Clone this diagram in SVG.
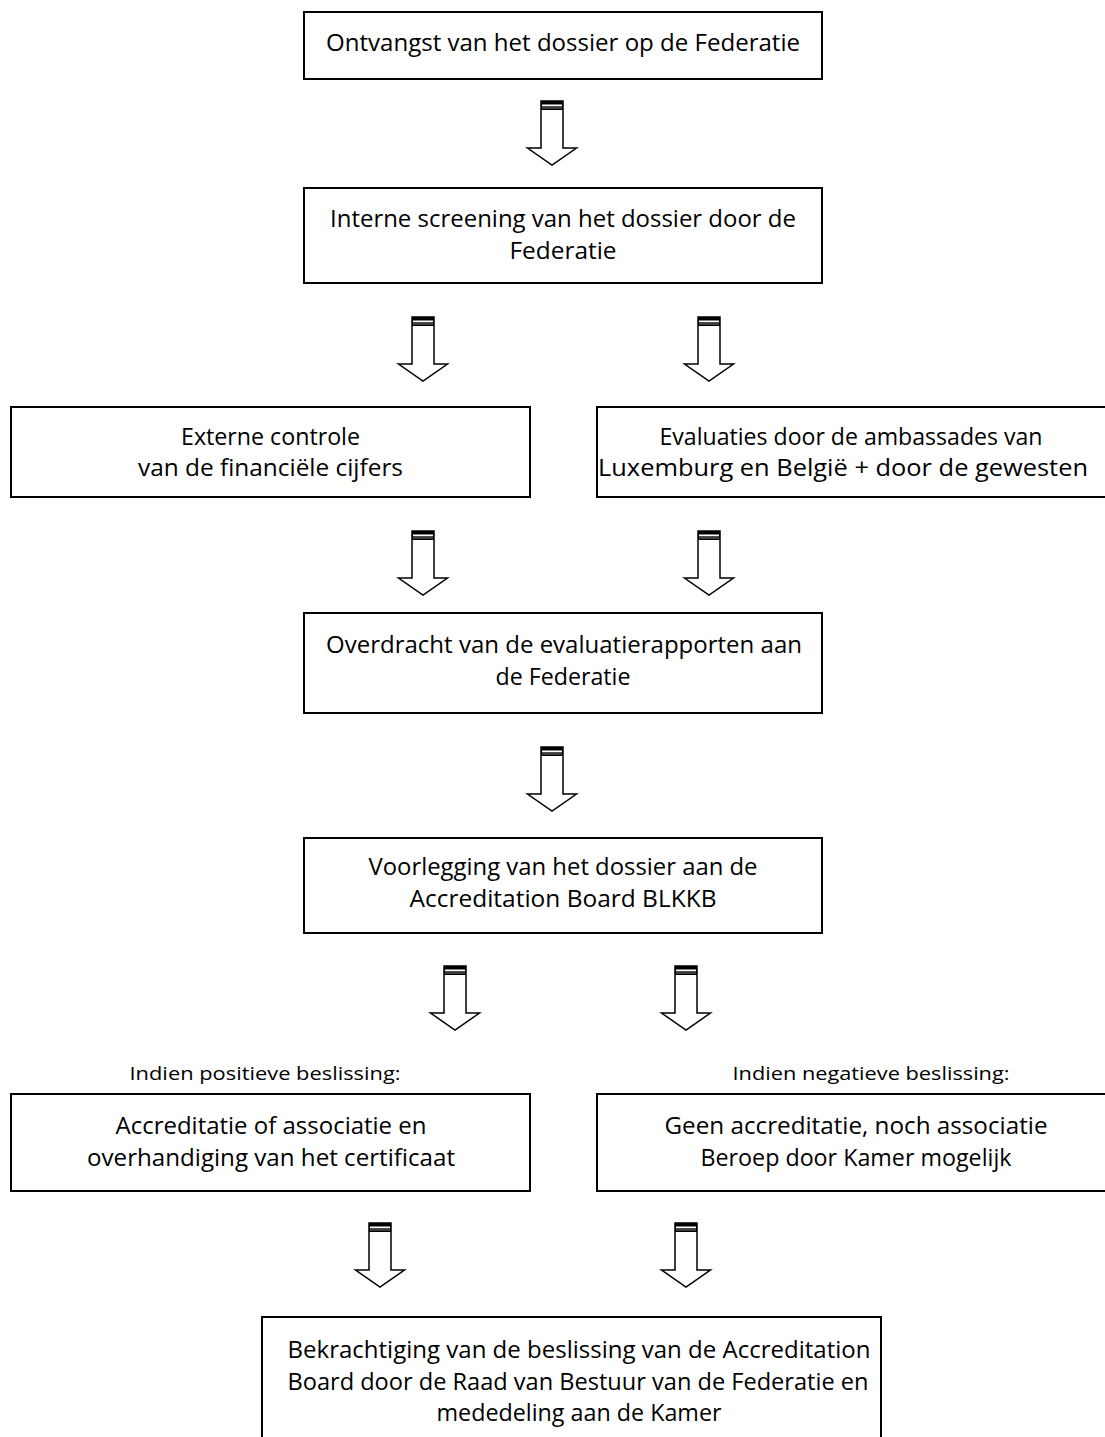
<svg xmlns="http://www.w3.org/2000/svg" width="1105" height="1437" viewBox="0 0 1105 1437">
<defs>
<style>
.box{fill:#fff;stroke:#000;stroke-width:2}
.t{font-family:"Open Sans","Noto Sans",sans-serif;font-size:23px;fill:#000;text-anchor:middle}
.l{font-family:"Open Sans","Noto Sans",sans-serif;font-size:19px;fill:#000;text-anchor:middle}
.ar{fill:#fff;stroke:#000;stroke-width:1.5;stroke-linejoin:miter}
</style>
<g id="arrow">
<path class="ar" d="M-11,0 V47 H-24.5 L0,64 L24.5,47 H11 V0 Z"/>
<rect x="-11" y="0" width="22" height="9" fill="#000"/>
<rect x="-10" y="3.5" width="20" height="1.8" fill="#fff"/>
<rect x="-10" y="6.6" width="20" height="0.8" fill="#999"/>
</g>
</defs>
<rect width="1105" height="1437" fill="#fff"/>
<g id="connectors">
<use href="#arrow" x="552" y="101"/>
<use href="#arrow" x="423" y="317"/>
<use href="#arrow" x="709" y="317"/>
<use href="#arrow" x="423" y="531"/>
<use href="#arrow" x="709" y="531"/>
<use href="#arrow" x="552" y="747"/>
<use href="#arrow" x="455" y="966"/>
<use href="#arrow" x="686" y="966"/>
<use href="#arrow" x="380" y="1223"/>
<use href="#arrow" x="686" y="1223"/>
</g>
<g id="n1">
<rect class="box" x="304" y="12" width="518" height="67"/>
<text class="t" x="563" y="51" textLength="474" lengthAdjust="spacingAndGlyphs">Ontvangst van het dossier op de Federatie</text>
</g>
<g id="n2">
<rect class="box" x="304" y="188" width="518" height="95"/>
<text class="t" x="563" y="227" textLength="466" lengthAdjust="spacingAndGlyphs">Interne screening van het dossier door de</text>
<text class="t" x="563" y="259" textLength="107" lengthAdjust="spacingAndGlyphs">Federatie</text>
</g>
<g id="n3">
<rect class="box" x="11" y="407" width="519" height="90"/>
<text class="t" x="270.5" y="445" textLength="179" lengthAdjust="spacingAndGlyphs">Externe controle</text>
<text class="t" x="270.5" y="476" textLength="265" lengthAdjust="spacingAndGlyphs">van de financiële cijfers</text>
</g>
<g id="n4">
<rect class="box" x="597" y="407" width="515" height="90"/>
<text class="t" x="851" y="445" textLength="383" lengthAdjust="spacingAndGlyphs">Evaluaties door de ambassades van</text>
<text class="t" x="843" y="476" textLength="490" lengthAdjust="spacingAndGlyphs">Luxemburg en België + door de gewesten</text>
</g>
<g id="n5">
<rect class="box" x="304" y="613" width="518" height="100"/>
<text class="t" x="564" y="653" textLength="476" lengthAdjust="spacingAndGlyphs">Overdracht van de evaluatierapporten aan</text>
<text class="t" x="563" y="685" textLength="135" lengthAdjust="spacingAndGlyphs">de Federatie</text>
</g>
<g id="n6">
<rect class="box" x="304" y="838" width="518" height="95"/>
<text class="t" x="563" y="875" textLength="389" lengthAdjust="spacingAndGlyphs">Voorlegging van het dossier aan de</text>
<text class="t" x="563" y="907" textLength="307" lengthAdjust="spacingAndGlyphs">Accreditation Board BLKKB</text>
</g>
<g id="lbl-pos">
<text class="l" x="265" y="1080" textLength="271" lengthAdjust="spacingAndGlyphs">Indien positieve beslissing:</text>
</g>
<g id="lbl-neg">
<text class="l" x="871" y="1080" textLength="277" lengthAdjust="spacingAndGlyphs">Indien negatieve beslissing:</text>
</g>
<g id="n7">
<rect class="box" x="11" y="1094" width="519" height="97"/>
<text class="t" x="271" y="1134" textLength="311" lengthAdjust="spacingAndGlyphs">Accreditatie of associatie en</text>
<text class="t" x="271" y="1166" textLength="368" lengthAdjust="spacingAndGlyphs">overhandiging van het certificaat</text>
</g>
<g id="n8">
<rect class="box" x="597" y="1094" width="515" height="97"/>
<text class="t" x="856" y="1134" textLength="383" lengthAdjust="spacingAndGlyphs">Geen accreditatie, noch associatie</text>
<text class="t" x="856" y="1166" textLength="311" lengthAdjust="spacingAndGlyphs">Beroep door Kamer mogelijk</text>
</g>
<g id="n9">
<rect class="box" x="262" y="1317" width="619" height="130"/>
<text class="t" x="579" y="1358" textLength="583" lengthAdjust="spacingAndGlyphs">Bekrachtiging van de beslissing van de Accreditation</text>
<text class="t" x="578" y="1390" textLength="581" lengthAdjust="spacingAndGlyphs">Board door de Raad van Bestuur van de Federatie en</text>
<text class="t" x="579" y="1421" textLength="285" lengthAdjust="spacingAndGlyphs">mededeling aan de Kamer</text>
</g>
</svg>
